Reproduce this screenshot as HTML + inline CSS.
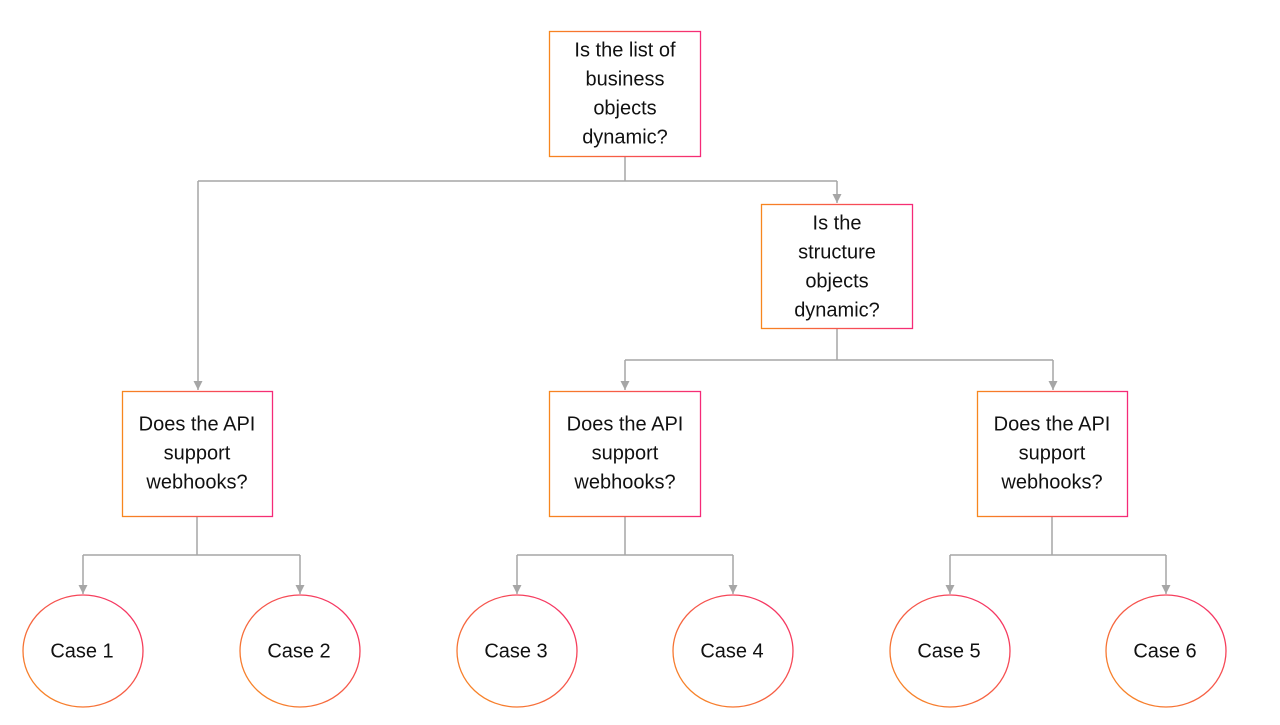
<!DOCTYPE html>
<html><head><meta charset="utf-8"><style>
html,body{margin:0;padding:0;background:#fff}
svg text{font-family:"Liberation Sans",sans-serif;font-size:20px;fill:#111;text-anchor:middle;dominant-baseline:middle}
</style></head><body>
<svg width="1280" height="720" viewBox="0 0 1280 720" xmlns="http://www.w3.org/2000/svg">
<defs>
<linearGradient id="g" x1="0" y1="0" x2="1" y2="0"><stop offset="0" stop-color="#f7861e"/><stop offset="1" stop-color="#f52a78"/></linearGradient>
<linearGradient id="gc" x1="0" y1="1" x2="1" y2="0"><stop offset="0" stop-color="#f7921e"/><stop offset="1" stop-color="#f5286f"/></linearGradient>
<marker id="a" markerWidth="10" markerHeight="10" refX="9" refY="5" orient="auto" markerUnits="userSpaceOnUse"><path d="M0,0.5 L9,5 L0,9.5 z" fill="#a6a6a6"/></marker>
</defs>
<g fill="none" stroke="#a6a6a6" stroke-width="1.5">
<path d="M625,156 V181 M198,181 H837"/>
<path d="M198,181 V390" marker-end="url(#a)"/>
<path d="M837,181 V203" marker-end="url(#a)"/>
<path d="M837,328 V360 M625,360 H1053"/>
<path d="M625,360 V390" marker-end="url(#a)"/>
<path d="M1053,360 V390" marker-end="url(#a)"/>
<path d="M197,516 V555 M83,555 H300 M625,516 V555 M517,555 H733 M1052,516 V555 M950,555 H1166"/>
<path d="M83,555 V594" marker-end="url(#a)"/>
<path d="M300,555 V594" marker-end="url(#a)"/>
<path d="M517,555 V594" marker-end="url(#a)"/>
<path d="M733,555 V594" marker-end="url(#a)"/>
<path d="M950,555 V594" marker-end="url(#a)"/>
<path d="M1166,555 V594" marker-end="url(#a)"/>
</g>
<g fill="#fff" stroke="url(#g)" stroke-width="1.3">
<rect x="549.5" y="31.5" width="151" height="125"/>
<rect x="761.5" y="204.5" width="151" height="124"/>
<rect x="122.5" y="391.5" width="150" height="125"/>
<rect x="549.5" y="391.5" width="151" height="125"/>
<rect x="977.5" y="391.5" width="150" height="125"/>
</g>
<g fill="#fff" stroke="url(#gc)" stroke-width="1.3">
<ellipse cx="83" cy="651" rx="60" ry="56"/>
<ellipse cx="300" cy="651" rx="60" ry="56"/>
<ellipse cx="517" cy="651" rx="60" ry="56"/>
<ellipse cx="733" cy="651" rx="60" ry="56"/>
<ellipse cx="950" cy="651" rx="60" ry="56"/>
<ellipse cx="1166" cy="651" rx="60" ry="56"/>
</g>
<text x="625" y="51">Is the list of</text>
<text x="625" y="80">business</text>
<text x="625" y="109">objects</text>
<text x="625" y="138">dynamic?</text>
<text x="837" y="224">Is the</text>
<text x="837" y="253">structure</text>
<text x="837" y="282">objects</text>
<text x="837" y="311">dynamic?</text>
<text x="197" y="425">Does the API</text><text x="197" y="454">support</text><text x="197" y="483">webhooks?</text>
<text x="625" y="425">Does the API</text><text x="625" y="454">support</text><text x="625" y="483">webhooks?</text>
<text x="1052" y="425">Does the API</text><text x="1052" y="454">support</text><text x="1052" y="483">webhooks?</text>
<text x="82" y="652">Case 1</text>
<text x="299" y="652">Case 2</text>
<text x="516" y="652">Case 3</text>
<text x="732" y="652">Case 4</text>
<text x="949" y="652">Case 5</text>
<text x="1165" y="652">Case 6</text>
</svg>
</body></html>
